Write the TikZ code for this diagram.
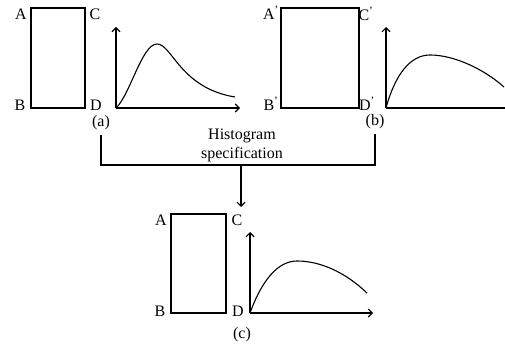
\documentclass[tikz,border=0pt]{standalone}
\usepackage{fontspec}
\setmainfont{Liberation Serif}
\usetikzlibrary{arrows.meta}
\begin{document}
\begin{tikzpicture}[x=1pt,y=-1pt,line width=1.1pt,
  lbl/.style={font=\fontsize{16}{19}\selectfont,inner sep=0pt},
  box/.style={draw,inner sep=0pt},
  arr/.style={-{Straight Barb[length=4pt,width=8pt]}}]
\useasboundingbox (0,0) rectangle (505,352);
% panel (a)
\node[box,minimum width=54pt,minimum height=100pt] (ra) at (58,58) {};
\node[lbl] (aA) at (21,14) {A};
\node[lbl] (aC) at (95,14) {C};
\node[lbl] (aB) at (20,105) {B};
\node[lbl] (aD) at (96,105) {D};
\node[lbl] (la) at (101,123) {(a)};
\coordinate (oa) at (116,108);
\coordinate (ya) at (116,27);
\coordinate (xa) at (240,108);
\draw[arr] (oa) -- (ya);
\draw[arr] (oa) -- (xa);
\draw (oa) .. controls (130,95) and (142,44) .. (157,44)
           .. controls (172,44) and (180,88) .. (235,97);
% panel (b)
\node[box,minimum width=78pt,minimum height=100pt] (rb) at (320,58) {};
\node[lbl] (bA) at (271,13) {A\textsuperscript{'}};
\node[lbl] (bC) at (366,14) {C\textsuperscript{'}};
\node[lbl] (bB) at (271,104) {B\textsuperscript{'}};
\node[lbl] (bD) at (367,104) {D\textsuperscript{'}};
\node[lbl] (lb) at (375,122) {(b)};
\coordinate (ob) at (386,108);
\coordinate (yb) at (386,27);
\coordinate (xb) at (505,108);
\draw[arr] (ob) -- (yb);
\draw (ob) -- (xb);
\draw (ob) .. controls (395,75) and (410,55) .. (430,55)
           .. controls (455,55) and (485,70) .. (504,87);
% connector
\node[lbl,align=center] (hs) at (242,145) {Histogram\\specification};
\coordinate (jn) at (241,165);
\coordinate (ce) at (241,207);
\draw ([yshift=-4pt]la.south) |- (jn) -| ([yshift=-4pt]lb.south);
\draw[arr] (jn) -- (ce);
% panel (c)
\node[box,minimum width=55pt,minimum height=99pt] (rc) at (198.5,263.5) {};
\node[lbl] (cA) at (161,220) {A};
\node[lbl] (cC) at (237,220) {C};
\node[lbl] (cB) at (160,311) {B};
\node[lbl] (cD) at (238,311) {D};
\node[lbl] (lc) at (242,335) {(c)};
\coordinate (oc) at (250,313);
\coordinate (yc) at (250,232);
\coordinate (xc) at (373,313);
\draw[arr] (oc) -- (yc);
\draw[arr] (oc) -- (xc);
\draw (oc) .. controls (262,280) and (278,261) .. (297,261)
           .. controls (320,261) and (345,272) .. (367,293);
\end{tikzpicture}
\end{document}
